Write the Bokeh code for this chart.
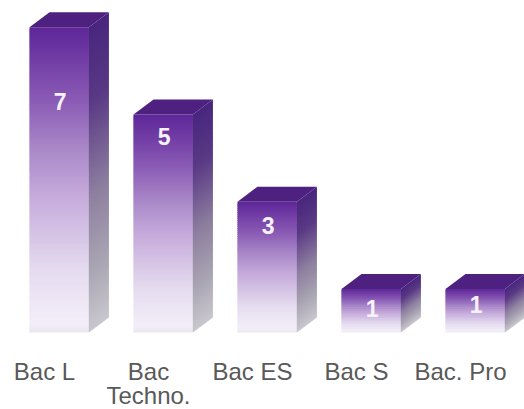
from bokeh.plotting import figure
from bokeh.models import Range1d
from bokeh.core.properties import value
from bokeh.embed import file_html
from bokeh.resources import INLINE
import numpy as np

categories = ["Bac L", "Bac\nTechno.", "Bac ES", "Bac S", "Bac. Pro"]
counts = [7, 5, 3, 1, 1]

# layout (pixels)
W, H = 524, 409
UNIT_X, UNIT_Y = 104.0, 43.6
BASE_Y = 332
FIRST_X = 44
HALF = 29.7 / UNIT_X
SHIFT = 14.7 / UNIT_X
DX, DY = 20 / UNIT_X, 15 / UNIT_Y
LABEL_DROP = [74, 22, 24, 20, 16]
LINE_DROP = [39, 63]

FRONT = [(0, (0x5e, 0x26, 0x98)), (.24, (0x8a, 0x5b, 0xb5)), (.4, (0xaa, 0x88, 0xc8)), (.55, (0xc5, 0xaa, 0xdb)),
         (.8, (0xe5, 0xdc, 0xef)), (.97, (0xf3, 0xee, 0xf9)), (1, (0xea, 0xe7, 0xef))]
SIDE = [(0, (0x48, 0x26, 0x7e)), (.25, (0x5a, 0x3a, 0x85)), (.55, (0x8d, 0x7e, 0x9f)),
        (.8, (0xa9, 0xa5, 0xb3)), (1, (0xc9, 0xc7, 0xce))]
TOP = "#4e2180"


def ramp(stops, t):
    ts = [s[0] for s in stops]
    return "#%02x%02x%02x" % tuple(int(round(np.interp(t, ts, [s[1][k] for s in stops]))) for k in range(3))


p = figure(width=W, height=H, output_backend="svg", toolbar_location=None,
           x_range=Range1d(-FIRST_X / UNIT_X, (W - FIRST_X) / UNIT_X),
           y_range=Range1d((BASE_Y - H) / UNIT_Y, BASE_Y / UNIT_Y),
           min_border=0, outline_line_color=None,
           background_fill_color="white", border_fill_color="white")
p.grid.visible = False
p.axis.visible = False

for i, v in enumerate(counts):
    x0, x1 = i + SHIFT - HALF, i + SHIFT + HALF
    n = max(24, int(v * UNIT_Y / 2))
    edges = np.linspace(v, 0, n + 1)
    step = edges[0] - edges[1]
    tops, bots, f_col, s_xs, s_ys, s_col = [], [], [], [], [], []
    for k in range(n):
        t = (k + .5) / n
        hi, lo = edges[k], max(edges[k + 1] - step * .6, 0)
        tops.append(hi); bots.append(lo); f_col.append(ramp(FRONT, t))
        s_xs.append([x1, x1 + DX, x1 + DX, x1])
        s_ys.append([hi, hi + DY, lo + DY, lo])
        s_col.append(ramp(SIDE, t))
    p.quad(left=x0, right=x1, top=tops, bottom=bots, fill_color=f_col, line_color=None)
    p.patches(s_xs, s_ys, fill_color=s_col, line_color=None)
    p.patch([x0, x0 + DX, x1 + DX, x1], [v, v + DY, v + DY, v], fill_color=TOP, line_color=None)
    p.text([i + SHIFT + 1 / UNIT_X], [v], text=[str(v)], text_color="#f6f2fa",
           text_font=value("Liberation Sans"), text_font_style="bold", text_font_size="23px",
           text_align="center", text_baseline="middle", y_offset=LABEL_DROP[i])

for i, c in enumerate(categories):
    for j, line in enumerate(c.split("\n")):
        p.text([i], [0], text=[line], text_color="#595959",
               text_font=value("Liberation Sans"), text_font_size="24px", text_align="center",
               text_baseline="alphabetic", y_offset=LINE_DROP[j])

open("out.html", "w").write(file_html(p, INLINE))
